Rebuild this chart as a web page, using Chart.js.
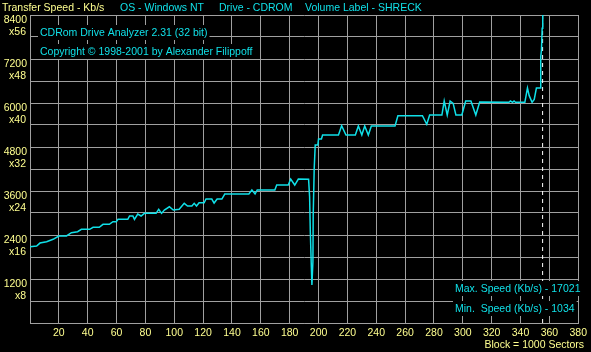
<!DOCTYPE html>
<html>
<head>
<meta charset="utf-8">
<script src="https://cdn.jsdelivr.net/npm/chart.js@4"></script>
<style>
  html, body { margin: 0; padding: 0; background: #000; }
  canvas { display: block; }
</style>
</head>
<body>
<canvas id="myChart" width="591" height="352"></canvas>
<script>
// block position (x 1000 sectors) and transfer speed (Kb/s)
const blocks = [
  0, 4.6, 6.9, 11.5, 16, 20, 25.3, 28.7, 33, 35.6, 41.4, 43.7, 48, 50.6, 55, 57.5, 59.8,
  61, 67.8, 69, 71.3, 72.4, 74.7, 77, 79.3, 87.4, 89.2, 91.2, 93.1, 96.6, 99.3, 103.4,
  106.9, 109.2, 112.2, 113.8, 115.4, 117.2, 120.7, 122, 126, 127.6, 129.7, 133, 135,
  151.7, 153.8, 156, 157.5, 169.7, 171, 179, 180.7, 183.5, 186, 193.1, 193.8, 194.3,
  195, 195.4, 196.1, 196.3, 197, 197.7, 199.5, 200, 202, 202.8, 213.8, 216, 219, 225.5,
  227.6, 230, 232, 234.5, 236.6, 253, 255, 272, 275, 277, 285.5, 287.1, 289.2, 291.2,
  293.3, 295.2, 299.3, 302, 305.6, 309, 311.7, 332, 333, 334.5, 335.5, 336.5, 343,
  344.8, 346, 348, 349.5, 351, 353.6, 354, 354.5, 355, 355.4
];
const speedKb = [
  2080, 2100, 2180, 2217, 2282, 2373, 2373, 2463, 2490, 2555, 2555, 2610, 2610, 2690, 2690, 2763, 2763,
  2827, 2827, 2918, 2918, 2827, 2973, 2918, 2990, 2990, 3100, 2990, 3080, 3170, 3080, 3100,
  3263, 3190, 3190, 3263, 3190, 3280, 3280, 3381, 3381, 3272, 3381, 3381, 3518,
  3518, 3627, 3518, 3627, 3627, 3763, 3763, 3927, 3763, 3927, 3918, 3445, 2490,
  1536, 1036, 1672, 2945, 4218, 4854, 4854, 5018, 5018, 5127, 5127, 5380, 5127, 5127,
  5372, 5127, 5372, 5127, 5372, 5372, 5653, 5653, 5419, 5672, 5672, 6054, 5672, 6054,
  5990, 5672, 5672, 6054, 6054, 5672, 6027, 6018, 6054, 6018, 6054, 6018, 6018,
  6409, 6200, 6018, 6100, 6409, 6409, 7260, 7445, 8036, 17021
];

// end-of-disc marker
const discEnd = 355.3;

// y tick labels: speed and CD multiplier
const yLabelSpeeds = [1200, 2400, 3600, 4800, 6000, 7200, 8400];
const yLabelMult = ['x8', 'x16', 'x24', 'x32', 'x40', 'x48', 'x56'];

const headerTexts = ['OS - Windows NT', 'Drive - CDROM', 'Volume Label - SHRECK'];
const headerX = [120, 219, 305];

const cyan = '#10e0e8';
const yellow = '#ffff90';
const gridGray = '#a0a0a0';
const font = '"Liberation Sans", Arial, sans-serif';
const fontSize = 10.5;

const overlayText = {
  id: 'overlayText',
  afterDraw(chart) {
    const c = chart.ctx;
    c.save();
    c.font = fontSize + 'px ' + font;
    c.textBaseline = 'alphabetic';

    // speed labels under each 1200 grid line
    const ys = chart.scales.y;
    c.fillStyle = yellow;
    c.textAlign = 'right';
    yLabelSpeeds.forEach((v, i) => {
      const py = ys.getPixelForValue(v);
      c.fillText(String(v), 27, py + 8);
      c.fillText(yLabelMult[i], 26, py + 20);
    });

    c.textAlign = 'left';
    c.fillStyle = yellow;
    c.fillText('Transfer Speed - Kb/s', 2, 11);
    c.fillStyle = cyan;
    headerTexts.forEach((t, i) => c.fillText(t, headerX[i], 11));

    const boxed = (text, x, base) => {
      const w = c.measureText(text).width;
      c.fillStyle = '#000';
      c.fillRect(x - 2, base - 11, w + 4, 15);
      c.fillStyle = cyan;
      c.fillText(text, x, base);
    };
    boxed('CDRom Drive Analyzer 2.31 (32 bit)', 40, 36);
    boxed('Copyright \u00a9 1998-2001 by Alexander Filippoff', 40, 55);
    boxed('Max. Speed (Kb/s) - 17021', 455, 292);
    boxed('Min.  Speed (Kb/s) - 1034', 455, 312);

    c.fillStyle = yellow;
    c.textAlign = 'right';
    c.fillText('Block = 1000 Sectors', 584, 348);
    c.restore();
  }
};

const ctx = document.getElementById('myChart').getContext('2d');

new Chart(ctx, {
  type: 'line',
  data: {
    datasets: [
      {
        label: 'Transfer Speed',
        data: blocks.map((b, i) => ({ x: b, y: speedKb[i] })),
        borderColor: cyan,
        borderWidth: 1.5,
        pointRadius: 0,
        tension: 0,
        fill: false
      },
      {
        label: 'Disc end',
        data: [{ x: discEnd, y: 0 }, { x: discEnd, y: 8400 }],
        borderColor: '#ffffff',
        borderWidth: 1,
        borderDash: [4, 4],
        pointRadius: 0,
        fill: false
      }
    ]
  },
  options: {
    responsive: false,
    animation: false,
    layout: { padding: { left: 0, top: 15, right: 10, bottom: 0 } },
    plugins: {
      legend: { display: false },
      tooltip: { enabled: false }
    },
    scales: {
      x: {
        type: 'linear',
        min: 0,
        max: 380,
        afterFit: s => { s.height = 29; },
        ticks: {
          stepSize: 20,
          autoSkip: false,
          maxRotation: 0,
          padding: 4,
          color: yellow,
          font: { family: font, size: fontSize },
          callback: v => (v === 0 ? '' : v)
        },
        grid: { color: gridGray, drawTicks: false },
        border: { color: gridGray }
      },
      y: {
        min: 0,
        max: 8400,
        afterFit: s => { s.width = 30; },
        ticks: {
          stepSize: 600,
          autoSkip: false,
          display: false
        },
        grid: { color: gridGray, drawTicks: false },
        border: { color: gridGray }
      }
    }
  },
  plugins: [overlayText]
});
</script>
</body>
</html>
